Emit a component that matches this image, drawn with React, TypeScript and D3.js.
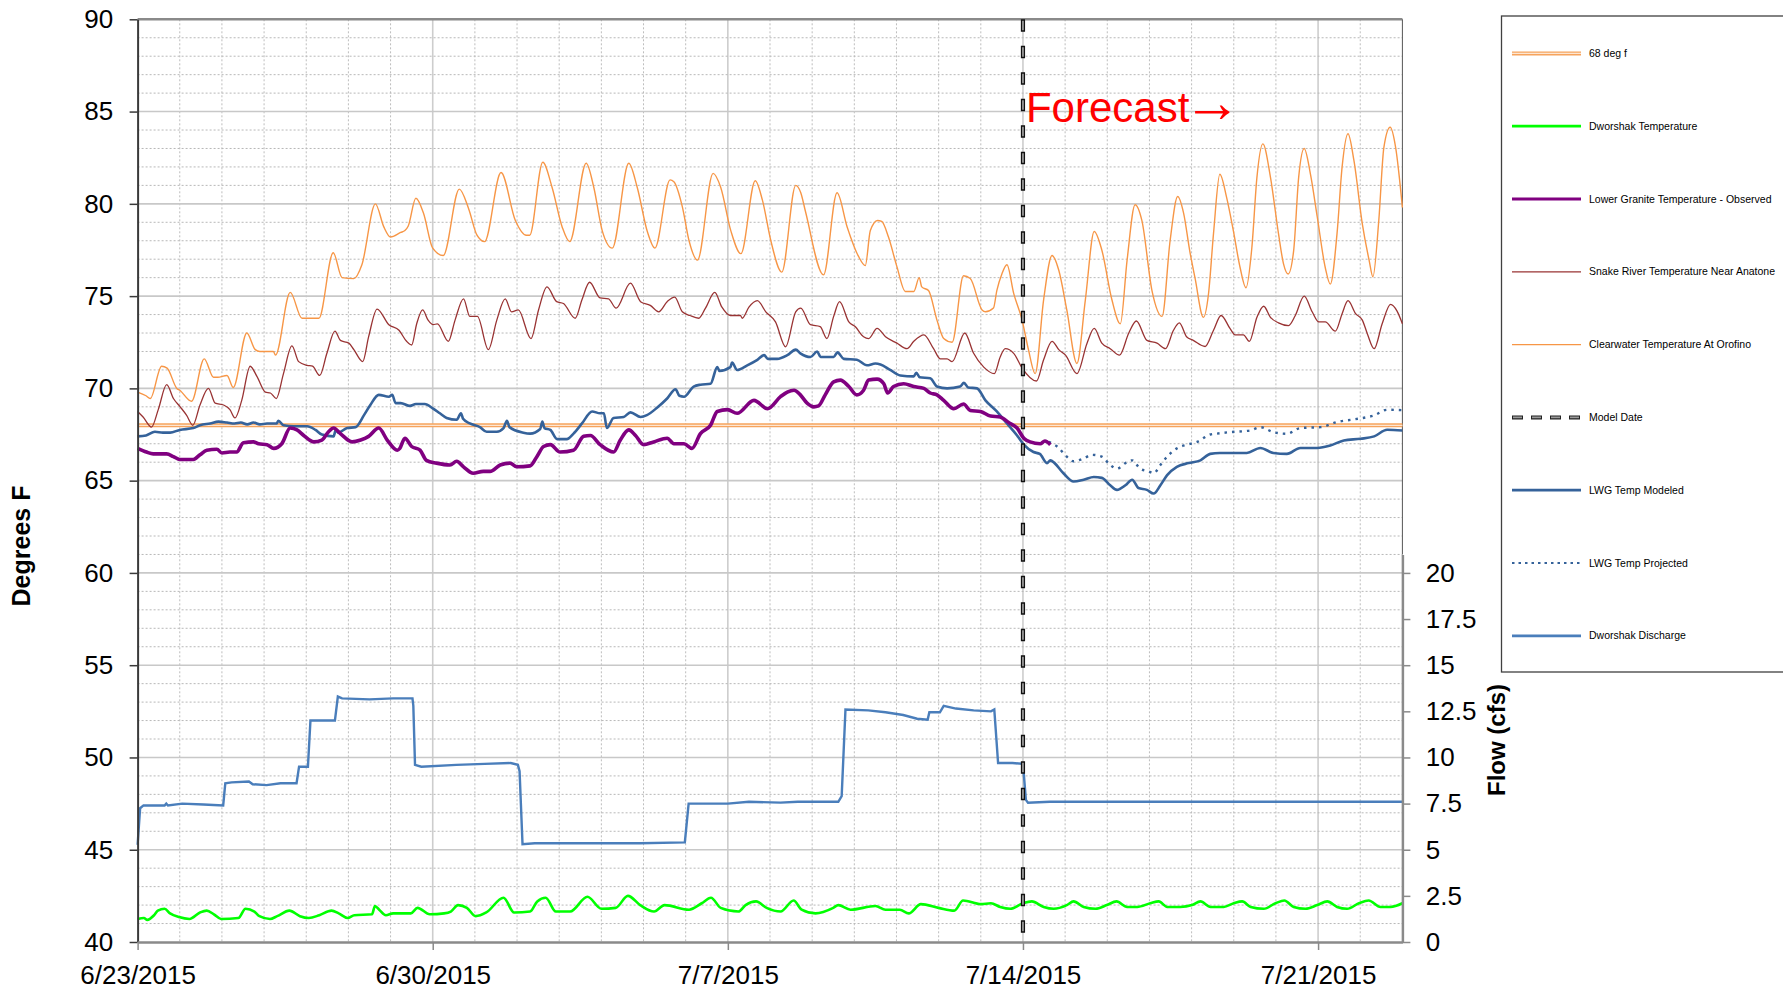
import {
  axisBottom,
  axisLeft,
  axisRight,
  curveLinear,
  curveMonotoneX,
  line,
  range,
  ScaleLinear,
  scaleLinear,
  select,
} from "d3";
import { useEffect, useRef } from "react";

type Pt = [number, number]; // [days since 6/23/2015, value]

const FONT = "'Liberation Sans', Arial, sans-serif";

const dateLabels = ["6/23/2015", "6/30/2015", "7/7/2015", "7/14/2015", "7/21/2015"];
const dateTickDays = [0, 7, 14, 21, 28];
const tempTicks = [40, 45, 50, 55, 60, 65, 70, 75, 80, 85, 90];
const flowTicks = [0, 2.5, 5, 7.5, 10, 12.5, 15, 17.5, 20];
const modelDay = 21;
const thresholdTemp = 68;

const legendLabels = [
  "68 deg f",
  "Dworshak Temperature",
  "Lower Granite Temperature - Observed",
  "Snake River Temperature Near Anatone",
  "Clearwater Temperature At Orofino",
  "Model Date",
  "LWG Temp Modeled",
  "LWG Temp Projected",
  "Dworshak Discharge",
];

const clearwater: Pt[] = [
  [0, 69.8], [0.2, 69.6], [0.3, 69.45], [0.57, 71.2], [0.7, 71.1], [0.93, 70.0], [1.0, 69.9],
  [1.28, 69.3], [1.58, 71.6], [1.8, 70.6], [1.9, 70.6], [2.12, 70.7], [2.27, 70.05], [2.59, 73.0],
  [2.79, 72.1], [2.9, 72.0], [3.22, 72.0], [3.27, 71.8], [3.62, 75.2], [3.9, 73.8], [4.3, 73.8],
  [4.64, 77.35], [4.85, 76.0], [5.13, 75.95], [5.32, 76.7], [5.64, 80.0], [5.84, 78.75], [6.0, 78.2],
  [6.24, 78.45], [6.34, 78.55], [6.42, 78.8], [6.6, 80.3], [6.78, 79.5], [7.0, 77.6], [7.25, 77.2],
  [7.63, 80.8], [7.85, 79.75], [8.05, 78.3], [8.23, 77.95], [8.62, 81.7], [8.96, 79.1], [9.22, 78.3],
  [9.3, 78.3], [9.61, 82.25], [9.83, 80.9], [10.07, 78.75], [10.25, 77.95], [10.64, 82.2], [10.82, 80.9],
  [11.02, 78.55], [11.26, 77.6], [11.65, 82.2], [11.85, 80.9], [12.09, 78.5], [12.27, 77.6],
  [12.63, 81.3], [12.72, 81.2], [12.92, 79.85], [13.08, 78.0], [13.28, 76.95], [13.65, 81.65],
  [13.83, 80.9], [14.07, 78.55], [14.31, 77.3], [14.65, 81.25], [14.82, 80.2], [15.02, 78.0],
  [15.28, 76.3], [15.61, 81.0], [15.73, 80.6], [15.84, 79.6], [16.27, 76.15], [16.59, 80.6],
  [16.83, 78.75], [17.1, 77.15], [17.26, 76.65], [17.38, 78.55], [17.55, 79.1], [17.65, 79.05],
  [17.81, 78.2], [18.01, 76.6], [18.21, 75.25], [18.41, 75.25], [18.54, 76.0], [18.6, 75.5],
  [18.76, 75.3], [18.96, 73.7], [19.12, 72.7], [19.32, 72.5], [19.59, 76.1], [19.75, 75.95],
  [20.03, 74.25], [20.11, 74.15], [20.3, 74.35], [20.38, 75.3], [20.5, 76.2], [20.62, 76.7],
  [20.78, 75.15], [20.98, 73.7], [21.13, 72.1], [21.29, 70.8], [21.49, 74.8], [21.69, 77.2],
  [21.85, 76.4], [22.04, 74.25], [22.28, 71.35], [22.48, 74.8], [22.69, 78.5], [22.87, 77.5],
  [23.11, 74.8], [23.31, 73.5], [23.47, 76.95], [23.66, 79.95], [23.82, 79.1], [24.06, 75.3],
  [24.3, 73.9], [24.49, 78.0], [24.67, 80.4], [24.81, 79.5], [24.96, 77.4], [25.08, 76.0],
  [25.28, 73.85], [25.4, 75.1], [25.52, 78.4], [25.67, 81.6], [25.83, 80.35], [25.99, 78.55],
  [26.15, 76.55], [26.29, 75.45], [26.43, 77.65], [26.55, 81.45], [26.69, 83.25], [26.87, 81.45],
  [27.06, 78.4], [27.18, 76.75], [27.29, 76.2], [27.42, 77.45], [27.54, 81.45], [27.67, 83.0],
  [27.82, 81.6], [27.98, 79.3], [28.17, 76.55], [28.29, 75.65], [28.45, 78.4], [28.57, 82.0],
  [28.71, 83.8], [28.85, 82.35], [29.05, 78.9], [29.21, 76.95], [29.3, 76.05], [29.44, 79.1],
  [29.56, 83.05], [29.71, 84.15], [29.84, 83.05], [30.0, 79.8],
];

const snakeRiver: Pt[] = [
  [0, 68.75], [0.13, 68.45], [0.33, 67.9], [0.49, 68.85], [0.69, 70.2], [0.85, 69.45], [1.01, 69.0],
  [1.16, 68.55], [1.31, 68.0], [1.48, 69.1], [1.68, 70.0], [1.84, 69.2], [2.04, 69.1], [2.19, 68.85],
  [2.31, 68.4], [2.47, 69.35], [2.67, 71.2], [2.83, 70.65], [3.03, 69.8], [3.15, 69.75], [3.29, 69.45],
  [3.46, 70.8], [3.66, 72.3], [3.82, 71.45], [4.02, 71.25], [4.15, 71.2], [4.32, 70.7], [4.49, 71.9],
  [4.68, 73.1], [4.81, 72.6], [5.01, 72.45], [5.13, 72.1], [5.34, 71.45], [5.48, 72.8], [5.68, 74.3],
  [5.96, 73.45], [6.2, 73.15], [6.38, 72.55], [6.5, 72.35], [6.62, 73.5], [6.76, 74.25], [6.89, 73.7],
  [7.01, 73.45], [7.11, 73.5], [7.37, 72.55], [7.53, 73.7], [7.73, 74.85], [7.88, 73.9], [8.06, 73.9],
  [8.32, 72.1], [8.52, 73.7], [8.72, 74.85], [8.87, 74.15], [9.03, 74.25], [9.33, 72.7], [9.51, 74.25],
  [9.71, 75.5], [9.94, 74.7], [10.1, 74.6], [10.38, 73.8], [10.54, 74.8], [10.72, 75.75], [10.97, 74.9],
  [11.17, 74.85], [11.35, 74.35], [11.69, 75.7], [11.93, 74.7], [12.16, 74.5], [12.36, 74.15],
  [12.56, 74.7], [12.74, 74.95], [12.92, 74.15], [13.1, 73.95], [13.31, 73.8], [13.47, 74.35],
  [13.69, 75.2], [13.86, 74.4], [14.06, 73.95], [14.3, 73.95], [14.34, 73.8], [14.5, 74.4],
  [14.7, 74.75], [14.9, 74.15], [15.13, 73.6], [15.37, 72.25], [15.61, 74.15], [15.73, 74.35],
  [15.96, 73.45], [16.19, 73.35], [16.35, 72.7], [16.51, 73.9], [16.65, 74.7], [16.87, 73.6],
  [17.02, 73.35], [17.22, 72.8], [17.34, 72.7], [17.54, 73.25], [17.74, 72.8], [18.01, 72.45],
  [18.25, 72.15], [18.41, 72.55], [18.65, 72.9], [18.88, 72.15], [19.04, 71.6], [19.2, 71.6],
  [19.32, 71.45], [19.62, 73.0], [19.83, 71.9], [20.07, 71.15], [20.32, 70.8], [20.46, 71.7],
  [20.58, 72.15], [20.78, 71.9], [20.98, 71.1], [21.32, 70.4], [21.49, 71.55], [21.69, 72.55],
  [21.85, 72.1], [22.01, 71.8], [22.28, 70.8], [22.52, 72.45], [22.69, 73.25], [22.87, 72.45],
  [23.07, 72.15], [23.29, 71.8], [23.51, 73.0], [23.69, 73.65], [23.94, 72.6], [24.18, 72.45],
  [24.38, 72.15], [24.57, 73.15], [24.71, 73.55], [24.88, 72.8], [25.04, 72.6], [25.32, 72.27],
  [25.52, 73.15], [25.7, 73.95], [25.91, 73.25], [26.03, 72.9], [26.23, 72.9], [26.37, 72.55],
  [26.55, 73.85], [26.71, 74.45], [26.87, 73.85], [27.06, 73.55], [27.3, 73.4], [27.46, 73.95],
  [27.67, 75.0], [27.86, 74.15], [28.02, 73.6], [28.17, 73.6], [28.41, 73.1], [28.57, 74.05],
  [28.71, 74.75], [28.89, 74.05], [29.05, 73.7], [29.17, 72.95], [29.33, 72.15], [29.52, 73.5],
  [29.72, 74.55], [29.87, 74.2], [30.0, 73.5],
];

const lwgModeled: Pt[] = [
  [0, 67.4], [0.2, 67.45], [0.41, 67.65], [0.6, 67.6], [0.77, 67.6], [1.0, 67.75], [1.32, 67.85],
  [1.48, 68.0], [1.72, 68.1], [1.92, 68.2], [2.12, 68.15], [2.3, 68.1], [2.45, 68.15], [2.6, 68.05],
  [2.75, 68.15], [2.9, 68.05], [3.07, 68.1], [3.3, 68.1], [3.34, 68.25], [3.46, 68.0], [3.7, 67.95],
  [4.02, 67.95], [4.22, 67.75], [4.37, 67.5], [4.65, 67.4], [4.7, 67.75], [4.76, 67.6], [4.97, 67.85],
  [5.17, 67.9], [5.37, 68.55], [5.52, 69.1], [5.72, 69.65], [5.96, 69.55], [6.04, 69.65], [6.12, 69.2],
  [6.24, 69.2], [6.46, 69.05], [6.6, 69.15], [6.81, 69.15], [7.01, 68.9], [7.17, 68.65], [7.33, 68.4],
  [7.57, 68.3], [7.67, 68.65], [7.72, 68.35], [7.88, 68.1], [8.12, 67.9], [8.28, 67.65], [8.52, 67.65],
  [8.68, 67.85], [8.76, 68.25], [8.82, 67.9], [9.15, 67.6], [9.31, 67.55], [9.55, 67.8], [9.6, 68.2],
  [9.65, 67.85], [9.79, 67.75], [9.95, 67.25], [10.18, 67.25], [10.34, 67.55], [10.54, 68.1],
  [10.78, 68.75], [10.97, 68.65], [11.06, 68.65], [11.13, 67.85], [11.29, 68.4], [11.53, 68.45],
  [11.69, 68.7], [11.93, 68.45], [12.08, 68.55], [12.32, 68.95], [12.56, 69.45], [12.76, 69.95],
  [12.85, 69.6], [12.96, 69.55], [13.19, 70.1], [13.35, 70.2], [13.59, 70.25], [13.75, 71.15],
  [13.8, 70.95], [14.06, 71.15], [14.1, 71.4], [14.22, 71.0], [14.46, 71.25], [14.7, 71.55],
  [14.86, 71.8], [14.95, 71.6], [15.17, 71.6], [15.41, 71.8], [15.61, 72.1], [15.72, 71.9],
  [15.96, 71.7], [16.12, 72.0], [16.2, 71.7], [16.51, 71.7], [16.6, 71.95], [16.75, 71.6],
  [17.06, 71.55], [17.3, 71.25], [17.5, 71.35], [17.62, 71.3], [17.85, 71.0], [18.09, 70.7],
  [18.41, 70.65], [18.47, 70.85], [18.55, 70.6], [18.8, 70.55], [18.96, 70.1], [19.2, 70.0],
  [19.51, 70.1], [19.6, 70.3], [19.7, 70.05], [19.91, 70.0], [20.11, 69.35], [20.38, 68.75],
  [20.62, 68.1], [20.86, 67.45], [21.02, 66.95], [21.25, 66.55], [21.4, 66.45], [21.57, 65.95],
  [21.65, 66.1], [21.75, 65.95], [21.96, 65.4], [22.2, 64.95], [22.44, 65.05], [22.68, 65.2],
  [22.87, 65.15], [23.07, 64.75], [23.23, 64.5], [23.43, 64.75], [23.59, 65.05], [23.74, 64.6],
  [23.94, 64.5], [24.1, 64.3], [24.26, 64.75], [24.42, 65.3], [24.65, 65.75], [24.93, 65.95],
  [25.21, 66.1], [25.44, 66.45], [25.67, 66.5], [26.31, 66.5], [26.63, 66.77], [26.94, 66.5],
  [27.26, 66.45], [27.58, 66.77], [27.98, 66.77], [28.29, 66.9], [28.61, 67.18], [29.01, 67.27],
  [29.33, 67.4], [29.64, 67.76], [30.0, 67.72],
];

const lwgProjected: Pt[] = [
  [21.61, 67.1], [21.81, 66.85], [22.04, 66.3], [22.2, 66.05], [22.44, 66.2], [22.64, 66.4],
  [22.87, 66.3], [23.07, 65.85], [23.23, 65.65], [23.43, 65.95], [23.59, 66.1], [23.78, 65.65],
  [23.98, 65.5], [24.1, 65.4], [24.26, 65.85], [24.42, 66.3], [24.65, 66.75], [24.89, 66.95],
  [25.13, 67.1], [25.44, 67.5], [25.6, 67.55], [25.91, 67.63], [26.39, 67.72], [26.63, 67.9],
  [26.94, 67.63], [27.26, 67.54], [27.58, 67.85], [28.06, 67.9], [28.45, 68.18], [28.85, 68.32],
  [29.33, 68.54], [29.64, 68.84], [30.0, 68.82],
];

const lgObserved: Pt[] = [
  [0, 66.75], [0.21, 66.55], [0.37, 66.45], [0.69, 66.45], [0.85, 66.3], [1.0, 66.15], [1.32, 66.15],
  [1.48, 66.4], [1.64, 66.65], [1.88, 66.7], [2.0, 66.5], [2.19, 66.55], [2.35, 66.55], [2.51, 67.05],
  [2.75, 67.1], [2.87, 67.0], [3.07, 66.95], [3.23, 66.75], [3.42, 67.0], [3.62, 67.85], [3.78, 67.75],
  [3.94, 67.45], [4.18, 67.1], [4.37, 67.2], [4.53, 67.65], [4.65, 67.85], [4.81, 67.55], [5.09, 67.1],
  [5.29, 67.2], [5.48, 67.4], [5.72, 67.85], [5.92, 67.2], [6.16, 66.65], [6.22, 66.75], [6.34, 67.3],
  [6.5, 66.85], [6.7, 66.65], [6.85, 66.1], [7.09, 65.95], [7.41, 65.85], [7.57, 66.05], [7.73, 65.75],
  [7.96, 65.4], [8.2, 65.5], [8.36, 65.5], [8.6, 65.85], [8.83, 65.95], [8.99, 65.75], [9.31, 65.8],
  [9.47, 66.3], [9.63, 66.85], [9.79, 66.95], [10.02, 66.55], [10.34, 66.65], [10.58, 67.4],
  [10.74, 67.45], [10.97, 66.95], [11.29, 66.55], [11.45, 67.2], [11.65, 67.75], [11.81, 67.45],
  [12.0, 66.95], [12.24, 67.1], [12.56, 67.3], [12.72, 67.0], [12.96, 67.0], [13.15, 66.75],
  [13.35, 67.55], [13.59, 68.0], [13.75, 68.75], [13.99, 68.85], [14.22, 68.65], [14.62, 69.35],
  [14.94, 68.9], [15.25, 69.55], [15.41, 69.8], [15.57, 69.9], [15.72, 69.65], [15.88, 69.2],
  [16.04, 69.0], [16.15, 69.05], [16.31, 69.65], [16.51, 70.35], [16.67, 70.45], [16.87, 70.1],
  [17.06, 69.65], [17.22, 69.9], [17.34, 70.45], [17.54, 70.5], [17.7, 70.25], [17.79, 69.75],
  [17.93, 70.1], [18.17, 70.25], [18.41, 70.1], [18.65, 70.0], [18.8, 69.75], [18.96, 69.65],
  [19.12, 69.35], [19.36, 68.9], [19.59, 69.15], [19.75, 68.8], [19.99, 68.75], [20.23, 68.5],
  [20.46, 68.45], [20.66, 68.15], [20.86, 67.85], [21.02, 67.3], [21.17, 67.1], [21.41, 67.0],
  [21.52, 67.15], [21.65, 66.95],
];

// flow in cfs (secondary axis)
const dworshakDischarge: Pt[] = [
  [0, 5.27], [0.06, 7.25], [0.14, 7.4], [0.64, 7.4], [0.68, 7.5], [0.72, 7.4], [1.06, 7.5],
  [1.56, 7.45], [2.03, 7.4], [2.08, 8.6], [2.23, 8.65], [2.64, 8.7], [2.73, 8.55], [3.06, 8.5],
  [3.39, 8.6], [3.77, 8.6], [3.83, 9.5], [4.04, 9.5], [4.1, 12.0], [4.68, 12.0], [4.75, 13.3],
  [4.85, 13.2], [5.5, 13.15], [6.06, 13.2], [6.52, 13.2], [6.54, 12.8], [6.58, 9.6], [6.73, 9.5],
  [7.56, 9.6], [8.23, 9.65], [8.85, 9.7], [9.02, 9.6], [9.06, 9.25], [9.13, 5.3], [9.42, 5.35],
  [10.26, 5.35], [11.09, 5.35], [11.92, 5.35], [12.98, 5.4], [13.07, 7.5], [14.0, 7.5], [14.5, 7.6],
  [15.25, 7.55], [15.66, 7.6], [16.62, 7.6], [16.7, 7.9], [16.79, 12.6], [17.33, 12.55],
  [17.74, 12.45], [18.16, 12.3], [18.49, 12.1], [18.74, 12.05], [18.78, 12.45], [19.03, 12.45],
  [19.12, 12.8], [19.41, 12.65], [19.83, 12.55], [20.24, 12.5], [20.32, 12.6], [20.41, 9.7],
  [20.75, 9.7], [21.0, 9.65], [21.07, 7.7], [21.12, 7.55], [21.64, 7.6], [30, 7.6],
];

const dworshakTemp: Pt[] = [
  [0, 41.25], [0.15, 41.3], [0.23, 41.2], [0.39, 41.45], [0.48, 41.7], [0.64, 41.8], [0.77, 41.55],
  [0.98, 41.35], [1.23, 41.25], [1.48, 41.6], [1.64, 41.7], [1.81, 41.5], [1.98, 41.25], [2.39, 41.3],
  [2.56, 41.8], [2.77, 41.65], [2.89, 41.4], [3.14, 41.25], [3.31, 41.4], [3.6, 41.7], [3.85, 41.4],
  [4.06, 41.3], [4.31, 41.45], [4.6, 41.7], [4.77, 41.55], [4.98, 41.3], [5.14, 41.45], [5.56, 41.5],
  [5.63, 41.95], [5.73, 41.75], [5.89, 41.45], [6.06, 41.55], [6.48, 41.55], [6.64, 41.85],
  [6.93, 41.5], [7.27, 41.55], [7.43, 41.65], [7.6, 42.0], [7.81, 41.85], [8.02, 41.4], [8.27, 41.6],
  [8.68, 42.4], [8.93, 41.6], [9.31, 41.65], [9.48, 42.2], [9.68, 42.4], [9.92, 41.65], [10.26, 41.65],
  [10.67, 42.45], [11.0, 41.8], [11.34, 41.85], [11.63, 42.5], [11.92, 42.0], [12.25, 41.65],
  [12.5, 42.0], [13.08, 41.75], [13.38, 42.1], [13.6, 42.4], [13.83, 41.85], [14.25, 41.65],
  [14.42, 42.0], [14.67, 42.2], [14.92, 41.85], [15.25, 41.65], [15.56, 42.25], [15.75, 41.75],
  [16.08, 41.55], [16.5, 41.85], [16.62, 42.0], [16.91, 41.75], [17.5, 41.95], [17.74, 41.75],
  [18.08, 41.75], [18.29, 41.55], [18.58, 42.05], [19.0, 41.85], [19.37, 41.7], [19.58, 42.25],
  [20.0, 42.05], [20.24, 42.1], [20.46, 41.9], [20.7, 41.8], [21.0, 42.1], [21.21, 42.2],
  [21.49, 41.9], [21.73, 41.8], [22.04, 42.0], [22.2, 42.2], [22.44, 41.9], [22.72, 41.8],
  [22.99, 42.0], [23.22, 42.2], [23.47, 41.9], [23.71, 41.9], [24.02, 42.1], [24.22, 42.2],
  [24.42, 41.9], [24.73, 41.9], [25.01, 42.0], [25.21, 42.2], [25.45, 41.9], [25.76, 41.9],
  [26.0, 42.1], [26.2, 42.2], [26.4, 41.9], [26.71, 41.8], [26.99, 42.1], [27.2, 42.25],
  [27.42, 41.9], [27.7, 41.8], [27.98, 42.0], [28.22, 42.2], [28.45, 41.9], [28.69, 41.8],
  [28.97, 42.1], [29.2, 42.25], [29.48, 41.9], [29.72, 41.9], [30.0, 42.1],
];

const W = 1783;
const H = 993;
const plot = { left: 137.6, right: 1402.4, top: 19.3, bottom: 942 };

const x = scaleLinear().domain([0, 30]).range([plot.left, plot.right]);
const yT = scaleLinear().domain([40, 90]).range([plot.bottom, plot.top]);
const yF = scaleLinear().domain([0, 50]).range([plot.bottom, plot.top]);
const yFAxis = scaleLinear().domain([0, 21]).range([yF(0), yF(21)]);

function AxisLeft({ scale }: { scale: ScaleLinear<number, number> }) {
  const ref = useRef<SVGGElement>(null);
  useEffect(() => {
    if (ref.current) {
      const g = select(ref.current);
      g.call(axisLeft(scale).tickValues(tempTicks).tickSize(8).tickSizeOuter(0).tickPadding(16.5));
      g.attr("font-size", 26).attr("font-family", FONT);
      g.select(".domain").attr("stroke", "#3a3a3a").attr("stroke-width", 2);
      g.selectAll(".tick line").attr("stroke", "#3a3a3a").attr("stroke-width", 1.5);
      g.selectAll(".tick text").attr("fill", "#000");
    }
  }, [scale]);
  return <g ref={ref} transform={`translate(${plot.left},0)`} />;
}

function AxisRight({ scale }: { scale: ScaleLinear<number, number> }) {
  const ref = useRef<SVGGElement>(null);
  useEffect(() => {
    if (ref.current) {
      const g = select(ref.current);
      g.call(
        axisRight(scale)
          .tickValues(flowTicks)
          .tickFormat((d) => String(d))
          .tickSize(8)
          .tickSizeOuter(0)
          .tickPadding(15.4)
      );
      g.attr("font-size", 26).attr("font-family", FONT);
      g.select(".domain").attr("stroke", "#8a8a8a").attr("stroke-width", 2.5);
      g.selectAll(".tick line").attr("stroke", "#8a8a8a").attr("stroke-width", 1.5);
      g.selectAll(".tick text").attr("fill", "#000");
    }
  }, [scale]);
  return <g ref={ref} transform={`translate(${plot.right},0)`} />;
}

function AxisBottom({ scale }: { scale: ScaleLinear<number, number> }) {
  const ref = useRef<SVGGElement>(null);
  useEffect(() => {
    if (ref.current) {
      const g = select(ref.current);
      g.call(
        axisBottom(scale)
          .tickValues(dateTickDays)
          .tickFormat((_d, i) => dateLabels[i])
          .tickSize(8)
          .tickSizeOuter(0)
          .tickPadding(15.5)
      );
      g.attr("font-size", 26).attr("font-family", FONT);
      g.select(".domain").attr("stroke", "#8a8a8a").attr("stroke-width", 2.5);
      g.selectAll(".tick line").attr("stroke", "#8a8a8a").attr("stroke-width", 1.5);
      g.selectAll(".tick text").attr("fill", "#000");
    }
  }, [scale]);
  return <g ref={ref} transform={`translate(0,${plot.bottom})`} />;
}

function Grid() {
  const days = range(1, 30);
  const temps = range(41, 90);
  return (
    <g>
      {days.map((d) => (
        <line
          key={`v${d}`}
          x1={x(d)}
          x2={x(d)}
          y1={plot.top}
          y2={plot.bottom}
          stroke={d % 7 === 0 ? "#cdcdcd" : "#bdbdbd"}
          strokeWidth={d % 7 === 0 ? 1.6 : 1}
          strokeDasharray={d % 7 === 0 ? undefined : "2,2"}
        />
      ))}
      {temps.map((t) => (
        <line
          key={`h${t}`}
          x1={plot.left}
          x2={plot.right}
          y1={yT(t)}
          y2={yT(t)}
          stroke={t % 5 === 0 ? "#c8c8c8" : "#b8b8b8"}
          strokeWidth={t % 5 === 0 ? 1.6 : 1}
          strokeDasharray={t % 5 === 0 ? undefined : "2,2"}
        />
      ))}
    </g>
  );
}

const tempLine = line<Pt>()
  .x((d) => x(d[0]))
  .y((d) => yT(d[1]))
  .curve(curveMonotoneX);

const flowLine = line<Pt>()
  .x((d) => x(d[0]))
  .y((d) => yF(d[1]))
  .curve(curveLinear);

function Legend() {
  const rowY = (i: number) => 53.4 + i * 72.8;
  const x1 = 1512;
  const x2 = 1581;
  const sample = (i: number) => {
    const y = rowY(i);
    switch (i) {
      case 0:
        return (
          <g>
            <line x1={x1} x2={x2} y1={y} y2={y} stroke="#F6A45E" strokeWidth={4} />
            <line x1={x1} x2={x2} y1={y} y2={y} stroke="#FDE6D2" strokeWidth={1.2} />
          </g>
        );
      case 1:
        return <line x1={x1} x2={x2} y1={y} y2={y} stroke="#00FF00" strokeWidth={2.8} />;
      case 2:
        return <line x1={x1} x2={x2} y1={y} y2={y} stroke="#800080" strokeWidth={3} />;
      case 3:
        return <line x1={x1} x2={x2} y1={y} y2={y} stroke="#993333" strokeWidth={1.2} />;
      case 4:
        return <line x1={x1} x2={x2} y1={y} y2={y} stroke="#F79646" strokeWidth={1.3} />;
      case 5:
        return (
          <g>
            <line x1={x1} x2={x2} y1={y} y2={y} stroke="#222" strokeWidth={4} strokeDasharray="11,8" />
            <line x1={x1 + 1} x2={x2} y1={y} y2={y} stroke="#9a9a9a" strokeWidth={1.6} strokeDasharray="9,10" />
          </g>
        );
      case 6:
        return <line x1={x1} x2={x2} y1={y} y2={y} stroke="#35629A" strokeWidth={2.8} />;
      case 7:
        return <line x1={x1} x2={x2} y1={y} y2={y} stroke="#35629A" strokeWidth={2.2} strokeDasharray="2.5,4" />;
      default:
        return <line x1={x1} x2={x2} y1={y} y2={y} stroke="#4A7EBB" strokeWidth={2.8} />;
    }
  };
  return (
    <g>
      <rect x={1501.5} y={16} width={320} height={656} fill="#fff" stroke="#404040" strokeWidth={1.3} />
      {legendLabels.map((label, i) => (
        <g key={label}>
          {sample(i)}
          <text x={1589} y={rowY(i)} dy="0.35em" fontSize={10.5} fontFamily={FONT} fill="#000">
            {label}
          </text>
        </g>
      ))}
    </g>
  );
}

export default function App() {
  const xm = x(modelDay);
  return (
    <svg
      width={W}
      height={H}
      style={{ position: "absolute", left: 0, top: 0, background: "#fff" }}
    >
      <rect width={W} height={H} fill="#fff" />
      <Grid />
      {/* plot frame */}
      <line x1={plot.left} x2={plot.right} y1={plot.top} y2={plot.top} stroke="#8a8a8a" strokeWidth={2.5} />
      <line x1={plot.right} x2={plot.right} y1={plot.top} y2={yFAxis(21)} stroke="#555" strokeWidth={1} />

      {/* 68 deg f */}
      <line x1={x(0)} x2={x(30)} y1={yT(thresholdTemp)} y2={yT(thresholdTemp)} stroke="#F6A45E" strokeWidth={4} />
      <line x1={x(0)} x2={x(30)} y1={yT(thresholdTemp)} y2={yT(thresholdTemp)} stroke="#FDE6D2" strokeWidth={1.2} />

      <path d={tempLine(dworshakTemp) ?? ""} fill="none" stroke="#00FF00" strokeWidth={2.6} />
      <path d={flowLine(dworshakDischarge) ?? ""} fill="none" stroke="#4A7EBB" strokeWidth={2.4} />
      <path d={tempLine(snakeRiver) ?? ""} fill="none" stroke="#993333" strokeWidth={1.3} />
      <path d={tempLine(clearwater) ?? ""} fill="none" stroke="#F79646" strokeWidth={1.4} />
      <path d={tempLine(lwgModeled) ?? ""} fill="none" stroke="#35629A" strokeWidth={2.6} />
      <path
        d={tempLine(lwgProjected) ?? ""}
        fill="none"
        stroke="#35629A"
        strokeWidth={2.4}
        strokeDasharray="2.5,5"
      />
      <path d={tempLine(lgObserved) ?? ""} fill="none" stroke="#800080" strokeWidth={3.6} />

      {/* model date */}
      <line x1={xm} x2={xm} y1={plot.top} y2={plot.bottom} stroke="#111" strokeWidth={4.2} strokeDasharray="12.5,14" />
      <line
        x1={xm}
        x2={xm}
        y1={plot.top + 1.5}
        y2={plot.bottom}
        stroke="#a8a8a8"
        strokeWidth={1.6}
        strokeDasharray="9.5,17"
      />

      <text x={xm + 3} y={122} fontSize={42} fontFamily={FONT} fill="#FF0000">
        Forecast
        <tspan fontSize={58} dx={-6}>
          →
        </tspan>
      </text>

      <AxisLeft scale={yT} />
      <AxisRight scale={yFAxis} />
      <AxisBottom scale={x} />

      <text
        transform={`translate(21,546) rotate(-90)`}
        textAnchor="middle"
        dy="0.35em"
        fontSize={25}
        fontWeight="bold"
        fontFamily={FONT}
      >
        Degrees F
      </text>
      <text
        transform={`translate(1497,740) rotate(-90)`}
        textAnchor="middle"
        dy="0.35em"
        fontSize={24}
        fontWeight="bold"
        fontFamily={FONT}
      >
        Flow (cfs)
      </text>

      <Legend />
    </svg>
  );
}
